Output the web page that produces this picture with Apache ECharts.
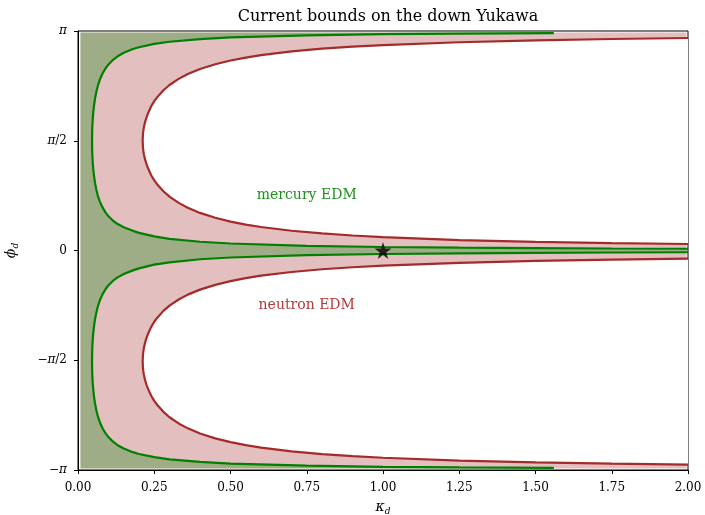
<!DOCTYPE html>
<html>
<head>
<meta charset="utf-8">
<script src="https://cdn.jsdelivr.net/npm/echarts@6/dist/echarts.min.js"></script>
<style>html,body{margin:0;padding:0;background:#fff}#c{width:705px;height:515px}</style>
</head>
<body>
<div id="c"></div>
<script>
// ---- data (kappa_d, phi_d / pi) ----
const xTicks = [0, 0.25, 0.5, 0.75, 1, 1.25, 1.5, 1.75, 2];
const yTickValues = [-1, -0.5, 0, 0.5, 1];
const yTickLabels = ['−π', '−π/2', '0', 'π/2', 'π'];

// domain covered by the contour fill
const fillKappa = [0.008, 1.995];
const fillPhi = [-0.993, 0.993];

// neutron EDM boundary, upper hole (from top end, around turn, to middle end)
const neutronUpper = [
  [2.00,0.968],[1.75,0.9635],[1.50,0.9574],[1.25,0.9488],[1.00,0.9359],[0.90,0.9287],[0.80,0.9196],
  [0.70,0.9071],[0.60,0.8902],[0.55,0.879],[0.50,0.8655],[0.45,0.8486],[0.40,0.8268],[0.36,0.804],
  [0.33,0.7818],[0.30,0.754],[0.28,0.730],[0.26,0.6988],[0.25,0.6803],[0.24,0.6569],[0.23,0.6265],
  [0.225,0.608],[0.22,0.5861],[0.216,0.5612],[0.214,0.5435],[0.213,0.5308],[0.212,0.50],
  [0.213,0.4692],[0.214,0.4565],[0.216,0.4388],[0.22,0.4139],[0.225,0.392],[0.23,0.3735],[0.24,0.3431],
  [0.25,0.3197],[0.26,0.3011],[0.28,0.270],[0.30,0.2453],[0.33,0.2171],[0.36,0.1947],[0.40,0.1713],
  [0.45,0.149],[0.50,0.1317],[0.55,0.1181],[0.60,0.1071],[0.70,0.0901],[0.80,0.0776],[0.90,0.0683],
  [1.00,0.0609],[1.25,0.0476],[1.50,0.0396],[1.75,0.0339],[2.00,0.0296]
];
// neutron EDM boundary, lower hole
const neutronLower = [
  [2.00,-0.037],[1.75,-0.0415],[1.50,-0.0476],[1.25,-0.0562],[1.00,-0.0691],[0.90,-0.0763],[0.80,-0.0854],
  [0.70,-0.0979],[0.60,-0.1148],[0.55,-0.126],[0.50,-0.1395],[0.45,-0.1564],[0.40,-0.1782],[0.36,-0.201],
  [0.33,-0.2232],[0.30,-0.251],[0.28,-0.275],[0.26,-0.3062],[0.25,-0.3247],[0.24,-0.3481],[0.23,-0.3785],
  [0.225,-0.397],[0.22,-0.4189],[0.216,-0.4438],[0.214,-0.4615],[0.213,-0.4742],[0.212,-0.505],
  [0.213,-0.5358],[0.214,-0.5485],[0.216,-0.5662],[0.22,-0.5911],[0.225,-0.613],[0.23,-0.6315],[0.24,-0.6619],
  [0.25,-0.6853],[0.26,-0.7039],[0.28,-0.735],[0.30,-0.7597],[0.33,-0.7879],[0.36,-0.8103],[0.40,-0.8337],
  [0.45,-0.856],[0.50,-0.8733],[0.55,-0.8869],[0.60,-0.8979],[0.70,-0.9149],[0.80,-0.9274],[0.90,-0.9367],
  [1.00,-0.9441],[1.25,-0.9574],[1.50,-0.9654],[1.75,-0.9711],[2.00,-0.9754]
];
// mercury EDM boundary, upper
const mercuryUpper = [
  [1.56,0.9906],[1.25,0.9883],[1.00,0.9854],[0.75,0.9805],[0.50,0.9707],[0.40,0.9633],[0.30,0.951],
  [0.25,0.9411],[0.20,0.9261],[0.18,0.9177],[0.15,0.9008],[0.13,0.8849],[0.115,0.869],[0.10,0.8478],
  [0.09,0.8293],[0.08,0.8051],[0.072,0.7794],[0.065,0.7498],[0.06,0.7216],[0.056,0.6933],[0.053,0.6652],
  [0.05,0.6282],[0.0485,0.6027],[0.047,0.5658],[0.0465,0.5467],[0.046,0.50],[0.0465,0.4533],[0.047,0.4342],
  [0.0485,0.3973],[0.05,0.3718],[0.053,0.3348],[0.056,0.3067],[0.06,0.2784],[0.065,0.2502],[0.072,0.2217],
  [0.08,0.1974],[0.09,0.1736],[0.10,0.1558],[0.115,0.1355],[0.13,0.1203],[0.15,0.1059],[0.18,0.0896],
  [0.20,0.0804],[0.25,0.0641],[0.30,0.0533],[0.40,0.0399],[0.50,0.0319],[0.75,0.0213],[1.00,0.0159],
  [1.25,0.0127],[1.50,0.0106],[1.75,0.0091],[2.00,0.008]
];
// mercury EDM boundary, lower
const mercuryLower = [
  [2.00,-0.008],[1.75,-0.0091],[1.50,-0.0106],[1.25,-0.0127],[1.00,-0.0159],[0.75,-0.0213],[0.50,-0.0319],
  [0.40,-0.0399],[0.30,-0.0538],[0.25,-0.0646],[0.20,-0.0814],[0.18,-0.0906],[0.15,-0.1074],[0.13,-0.1223],
  [0.115,-0.1375],[0.10,-0.1583],[0.09,-0.1766],[0.08,-0.2009],[0.072,-0.2257],[0.065,-0.2552],[0.06,-0.2834],
  [0.056,-0.3117],[0.053,-0.3398],[0.05,-0.3768],[0.0485,-0.4023],[0.047,-0.4392],[0.0465,-0.4583],[0.046,-0.505],
  [0.0465,-0.5517],[0.047,-0.5708],[0.0485,-0.6077],[0.05,-0.6332],[0.053,-0.6702],[0.056,-0.6983],[0.06,-0.7266],
  [0.065,-0.7548],[0.072,-0.7834],[0.08,-0.8086],[0.09,-0.8323],[0.10,-0.8503],[0.115,-0.871],[0.13,-0.8869],
  [0.15,-0.9023],[0.18,-0.9187],[0.20,-0.9271],[0.25,-0.9416],[0.30,-0.9515],[0.40,-0.9633],[0.50,-0.9707],
  [0.75,-0.9805],[1.00,-0.9854],[1.25,-0.9883],[1.56,-0.9906]
];
const smPoint = [[1.0, 0.0]];
const labelNames = ['mercury EDM', 'neutron EDM'];
const labelPos = [[0.75, 0.25], [0.75, -0.25]];

// ---- styles ----
const RED = '#a52a2a', GREEN = '#008000';
const FONT = 'DejaVu Serif';

const domainRect = [
  [fillKappa[0], fillPhi[1]], [fillKappa[1], fillPhi[1]],
  [fillKappa[1], fillPhi[0]], [fillKappa[0], fillPhi[0]]
];
const mercuryRegion = [].concat(
  [[fillKappa[0], fillPhi[1]], [mercuryUpper[0][0], fillPhi[1]]],
  mercuryUpper, mercuryLower,
  [[mercuryLower[mercuryLower.length-1][0], fillPhi[0]], [fillKappa[0], fillPhi[0]]]
);

function polySeries(rings, fill, z) {
  return {
    type: 'custom', z: z, silent: true, animation: false,
    data: rings.map(r => [r[0][0], r[0][1]]),
    renderItem: function (params, api) {
      const ring = rings[params.dataIndex];
      return { type: 'polygon', shape: { points: ring.map(p => api.coord(p)) }, style: { fill: fill, stroke: null } };
    }
  };
}
function lineSeries(pts, color) {
  return { type: 'line', data: pts, showSymbol: false, symbol: 'none', z: 5, animation: false,
    lineStyle: { color: color, width: 2.2 }, silent: true };
}
const nameRich = {
  k: { fontFamily: FONT, fontStyle: 'italic', fontSize: 14, color: '#000' },
  s: { fontFamily: FONT, fontStyle: 'italic', fontSize: 9, color: '#000', padding: [8, 0, 0, 0] }
};

const chart = echarts.init(document.getElementById('c'));
chart.setOption({
  animation: false,
  title: { text: 'Current bounds on the down Yukawa', left: 383, top: 4, textAlign: 'center',
    textStyle: { fontFamily: FONT, fontSize: 16, fontWeight: 'normal', color: '#000' } },
  grid: { left: 78, right: 17, top: 31, bottom: 45, show: true, borderColor: '#000', borderWidth: 1,
    backgroundColor: 'transparent', containLabel: false, outerBoundsMode: 'none' },
  xAxis: {
    type: 'value', min: 0, max: 2, interval: 0.25,
    axisLine: { show: true, onZero: false, lineStyle: { color: '#000', width: 1 } },
    axisTick: { show: true, length: 4, lineStyle: { color: '#000' } },
    splitLine: { show: false },
    axisLabel: { margin: 12, color: '#000', fontFamily: FONT, fontSize: 12,
      formatter: v => v.toFixed(2) },
    name: '{k|κ}{s|d}', nameLocation: 'middle', nameGap: 29,
    nameTextStyle: { rich: nameRich }
  },
  yAxis: {
    type: 'value', min: -1, max: 1, interval: 0.5,
    axisLine: { show: true, onZero: false, lineStyle: { color: '#000', width: 1 } },
    axisTick: { show: true, length: 4, lineStyle: { color: '#000' } },
    splitLine: { show: false },
    axisLabel: { margin: 11, color: '#000', fontFamily: FONT, fontSize: 12,
      formatter: v => { const i = yTickValues.findIndex(t => Math.abs(t - v) < 1e-9);
        return i >= 0 ? yTickLabels[i].replace('π', '{i|π}') : ''; },
      rich: { i: { fontFamily: FONT, fontStyle: 'italic', fontSize: 12, color: '#000' } } },
    name: '{k|ϕ}{s|d}', nameLocation: 'middle', nameGap: 58, nameRotate: 90,
    nameTextStyle: { rich: nameRich }
  },
  series: [
    polySeries([domainRect], 'rgba(165,42,42,0.3)', 1),
    polySeries([neutronUpper, neutronLower], '#ffffff', 2),
    polySeries([mercuryRegion], 'rgba(0,128,0,0.3)', 3),
    lineSeries(neutronUpper, RED),
    lineSeries(neutronLower, RED),
    lineSeries(mercuryUpper, GREEN),
    lineSeries(mercuryLower, GREEN),
    { type: 'scatter', data: smPoint, z: 10, animation: false, silent: true,
      symbol: 'path://M50,0 L61.2,34.5 L97.6,34.5 L68.2,55.9 L79.4,90.5 L50,69.1 L20.6,90.5 L31.8,55.9 L2.4,34.5 L38.8,34.5 Z',
      symbolSize: 17, itemStyle: { color: '#000' } },
    { type: 'custom', z: 11, silent: true, animation: false,
      data: labelPos,
      renderItem: function (params, api) {
        const p = api.coord([api.value(0), api.value(1)]);
        return { type: 'text', x: p[0], y: p[1], style: { text: labelNames[params.dataIndex],
          fill: params.dataIndex === 0 ? '#1f8f1f' : '#b03a3a', font: '14px "' + FONT + '"', align: 'center', verticalAlign: 'middle' } };
      } }
  ]
});
</script>
</body>
</html>
